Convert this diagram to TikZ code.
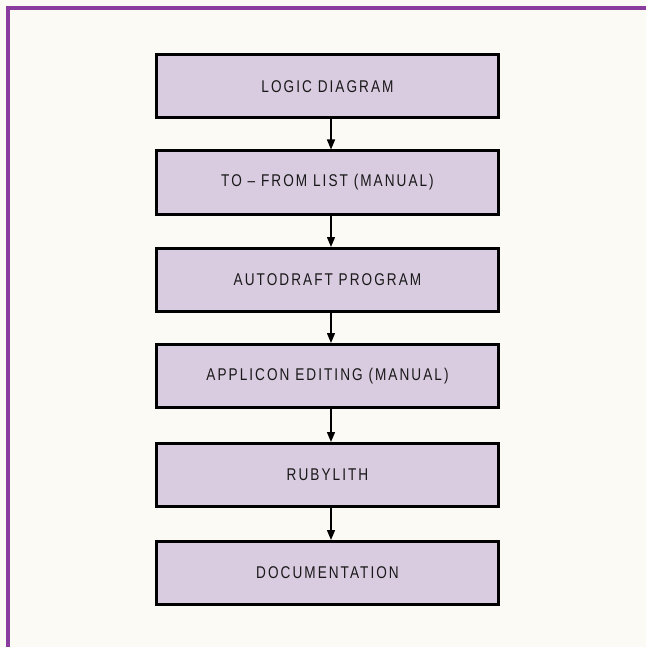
\documentclass[tikz,border=0pt]{standalone}
\usepackage{fontspec}
\setmainfont{Liberation Sans}[FakeStretch=0.8,LetterSpace=12]
\usetikzlibrary{arrows.meta}
\definecolor{bgcol}{HTML}{FCFAF4}
\definecolor{framecol}{HTML}{8A3C9E}
\definecolor{boxfill}{HTML}{D9CBE0}
\begin{document}
\begin{tikzpicture}[x=1pt,y=-1pt,
  stepbox/.style={draw=black,line width=3pt,fill=boxfill,minimum width=342pt,minimum height=63pt,inner sep=0pt,
    font=\fontsize{17}{19}\selectfont,text=black!90},
  flow/.style={line width=1.4pt,-{Triangle[length=10pt,width=8pt]}}]
\useasboundingbox (0,0) rectangle (646,647);
\fill[bgcol] (0,0) rectangle (646,647);
\draw[framecol,line width=4pt] (7.5,647) -- (7.5,8) -- (646,8);
\node[stepbox] (a) at (327.5,86.5) {LOGIC DIAGRAM};
\node[stepbox] (b) at (327.5,182.5) {TO -- FROM LIST (MANUAL)};
\node[stepbox] (c) at (327.5,280) {AUTODRAFT PROGRAM};
\node[stepbox] (d) at (327.5,376) {APPLICON EDITING (MANUAL)};
\node[stepbox] (e) at (327.5,475) {RUBYLITH};
\node[stepbox] (f) at (327.5,573) {DOCUMENTATION};
\foreach \u/\v in {a/b,b/c,c/d,d/e,e/f}
  \draw[flow] ([xshift=3.5pt]\u.south) -- ([xshift=3.5pt]\v.north);
\end{tikzpicture}
\end{document}
